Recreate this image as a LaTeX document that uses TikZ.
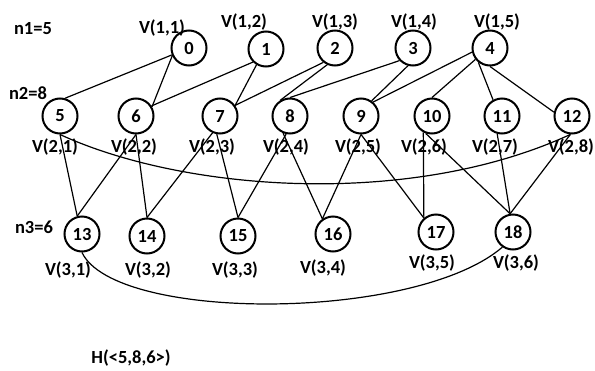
\documentclass[tikz,border=0pt]{standalone}
\usepackage{fontspec}
\setmainfont{Carlito}
\newcommand\lblfont{\fontsize{18.5}{20}\selectfont\bfseries}
\begin{document}
\begin{tikzpicture}[x=1pt,y=-1pt,
  vtx/.style={circle,draw,line width=2pt,minimum size=35pt,inner sep=0pt,font=\lblfont},
  lbl/.style={font=\lblfont,inner sep=0pt},
  edge/.style={line width=1.2pt}]
\fill[white] (0,0) rectangle (595,370);
\useasboundingbox (0,0) rectangle (595,370);
% level 1
\node[vtx] (n0) at (189,48) {0};
\node[vtx] (n1) at (266,49) {1};
\node[vtx] (n2) at (335,48) {2};
\node[vtx] (n3) at (413,48) {3};
\node[vtx] (n4) at (490,48) {4};
% level 2
\node[vtx] (n5) at (60,116) {5};
\node[vtx] (n6) at (136,116) {6};
\node[vtx] (n7) at (220,116) {7};
\node[vtx] (n8) at (290,116) {8};
\node[vtx] (n9) at (361,116) {9};
\node[vtx] (n10) at (432,116) {10};
\node[vtx] (n11) at (502,116) {11};
\node[vtx] (n12) at (572,116) {12};
% level 3
\node[vtx] (n13) at (82,234) {13};
\node[vtx] (n14) at (147,236) {14};
\node[vtx] (n15) at (238,236) {15};
\node[vtx] (n16) at (333,234) {16};
\node[vtx] (n17) at (436,232) {17};
\node[vtx] (n18) at (513,232) {18};
% labels
\node[lbl] (cnt1) at (33,29) {n1=5};
\node[lbl] (cnt2) at (28,93) {n2=8};
\node[lbl] (cnt3) at (34,227) {n3=6};
\node[lbl] (l11) at (162,28) {V(1,1)};
\node[lbl] (l12) at (244,22) {V(1,2)};
\node[lbl] (l13) at (335,22) {V(1,3)};
\node[lbl] (l14) at (414,22) {V(1,4)};
\node[lbl] (l15) at (497,22) {V(1,5)};
\node[lbl] (l21) at (55,147) {V(2,1)};
\node[lbl] (l22) at (134,147) {V(2,2)};
\node[lbl] (l23) at (212,147) {V(2,3)};
\node[lbl] (l24) at (286,147) {V(2,4)};
\node[lbl] (l25) at (358,147) {V(2,5)};
\node[lbl] (l26) at (424,147) {V(2,6)};
\node[lbl] (l27) at (495,147) {V(2,7)};
\node[lbl] (l28) at (571,147) {V(2,8)};
\node[lbl] (l31) at (68,270) {V(3,1)};
\node[lbl] (l32) at (148,270) {V(3,2)};
\node[lbl] (l33) at (235,270) {V(3,3)};
\node[lbl] (l34) at (323,268) {V(3,4)};
\node[lbl] (l35) at (432,263) {V(3,5)};
\node[lbl] (l36) at (516,263) {V(3,6)};
\node[lbl] (title) at (131,358) {H(<5,8,6>)};
% level 1 -> level 2
\draw[edge] (n0.202) -- (n5.74);
\draw[edge] (n0.205) -- (n6.30);
\draw[edge] (n1.225) -- (n6.33);
\draw[edge] (n1.239) -- (n7.35);
\draw[edge] (n2.231) -- (n7.35);
\draw[edge] (n2.245) -- (n8.122);
\draw[edge] (n3.223) -- (n8.90);
\draw[edge] (n3.254) -- (n9.55);
\draw[edge] (n4.193) -- (n9.49);
\draw[edge] (n4.218) -- (n10.90);
\draw[edge] (n4.231) -- (n11.119);
\draw[edge] (n4.270) -- (n12.168);
% level 2 -> level 3
\draw[edge] (n5.270) -- (n13.105);
\draw[edge] (n6.270) -- (n13.105);
\draw[edge] (n6.270) -- (n14.90);
\draw[edge] (n7.246) -- (n14.90);
\draw[edge] (n7.260) -- (n15.90);
\draw[edge] (n8.258) -- (n15.90);
\draw[edge] (n8.248) -- (n16.125);
\draw[edge] (n9.270) -- (n16.125);
\draw[edge] (n9.270) -- (n17.131);
\draw[edge] (n10.242) -- (n17.131);
\draw[edge] (n10.250) -- (n18.99);
\draw[edge] (n11.255) -- (n18.99);
\draw[edge] (n12.265) -- (n18.99);
% curved edges
\draw[edge] (n5.south) .. controls (185,192) and (411,208) .. (n12.265);
\draw[edge] (n13.south) .. controls (115,322) and (415,322) .. (n18.235);
\end{tikzpicture}
\end{document}
